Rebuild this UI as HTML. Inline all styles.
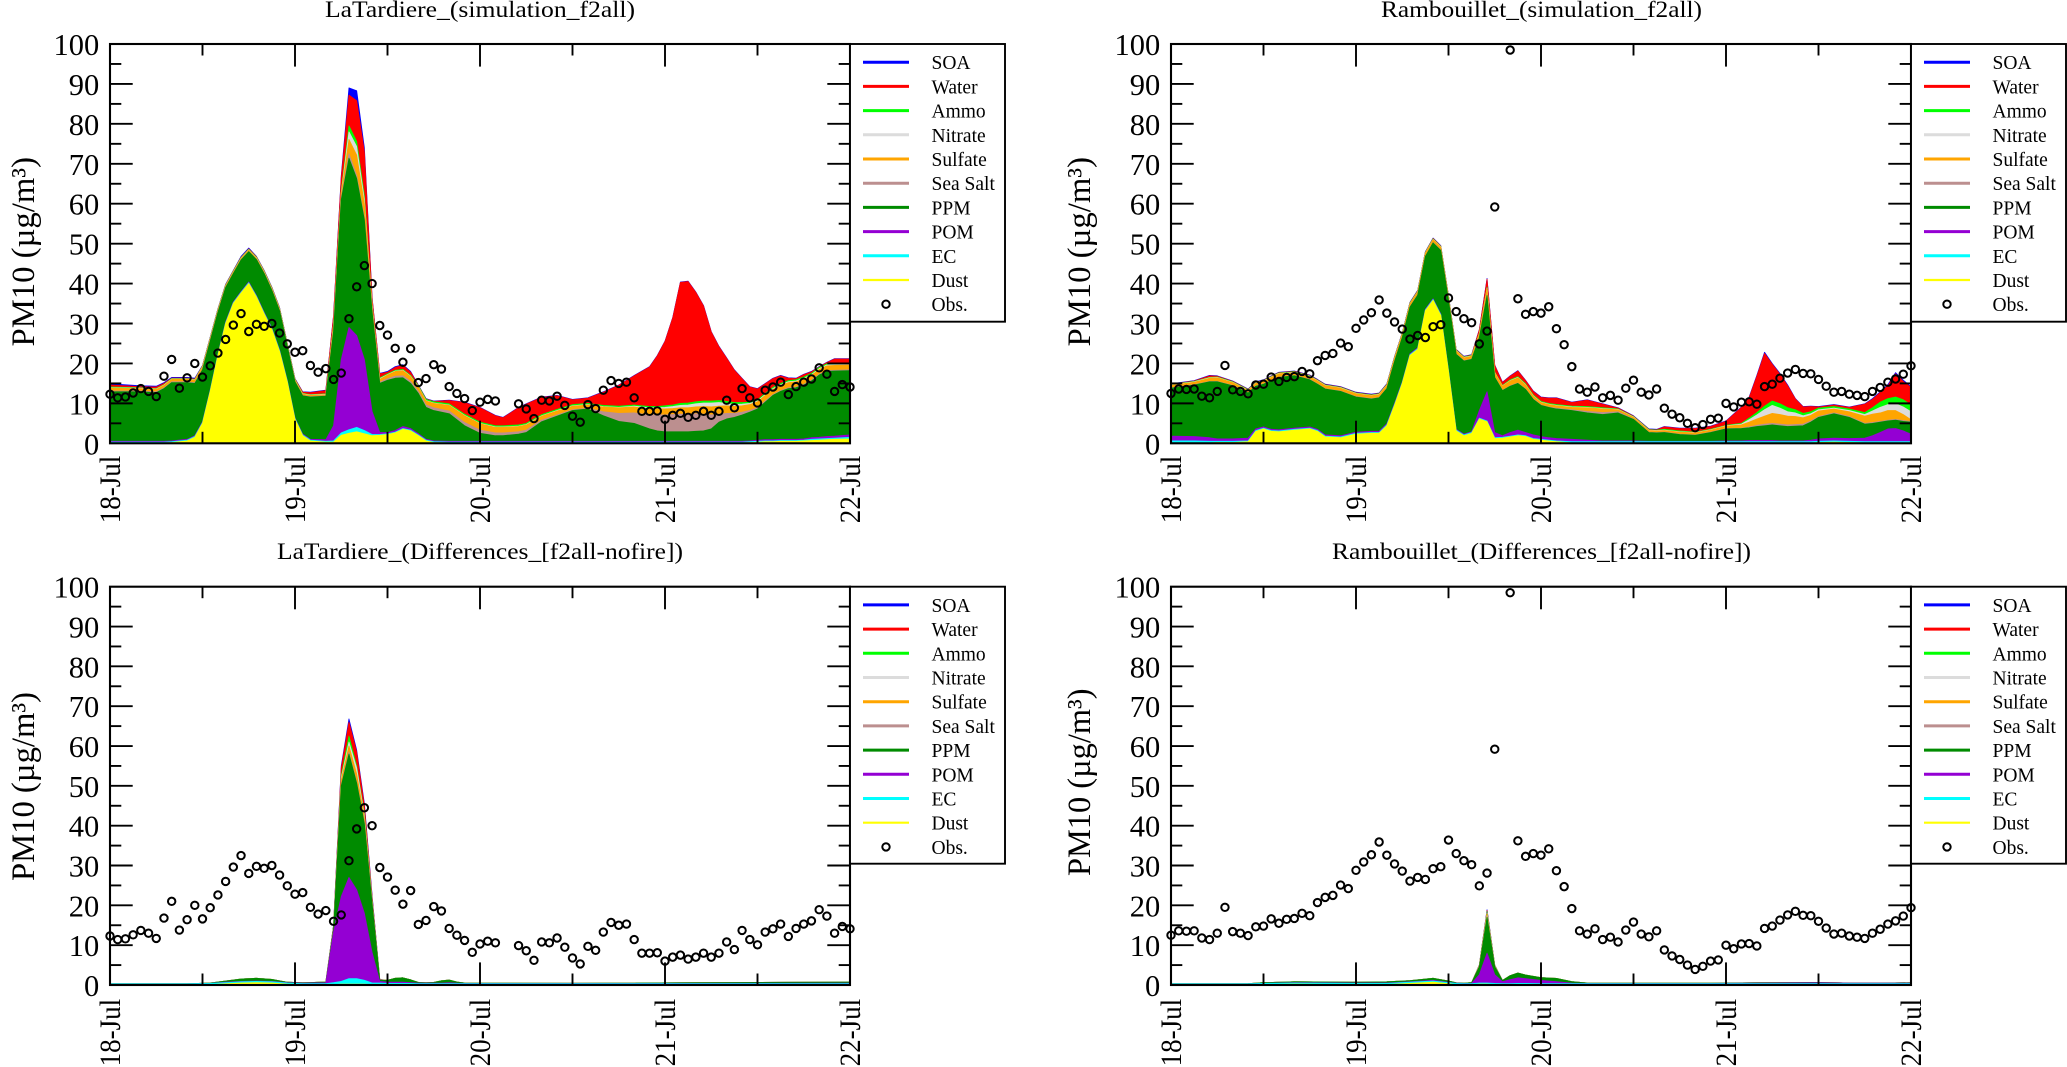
<!DOCTYPE html>
<html lang="en">
<head>
<meta charset="utf-8">
<title>PM10 composition at LaTardiere and Rambouillet</title>
<style>
html,body{margin:0;padding:0;background:#fff;width:2067px;height:1067px;overflow:hidden}
svg{display:block;font-family:"Liberation Serif","DejaVu Serif",serif;fill:#000;filter:blur(0.35px)}
</style>
</head>
<body>
<svg id="chart" xmlns="http://www.w3.org/2000/svg" width="2067" height="1067" viewBox="0 0 2067 1067"></svg>
<script>
/* ---------- shared labels ---------- */
const yTickValues = [0,10,20,30,40,50,60,70,80,90,100];
const xTickLabels = ["18-Jul","19-Jul","20-Jul","21-Jul","22-Jul"];
const legendLabels = ["SOA","Water","Ammo","Nitrate","Sulfate","Sea Salt","PPM","POM","EC","Dust"];

/* ---------- observations (hourly, null = missing) ---------- */
const obsLaTardiere = [
12.3,11.4,11.6,12.6,13.7,13,11.7,16.8,21,13.8,
16.4,20,16.6,19.4,22.6,26,29.6,32.5,28,29.8,
29.3,30,27.6,24.9,22.8,23.2,19.5,17.8,18.7,16,
17.6,31.2,39.2,44.5,40,29.5,27.1,23.8,20.3,23.7,
15.2,16.2,19.7,18.6,14.2,12.5,11.2,8.2,10.3,11,
10.6,null,null,9.9,8.6,6.2,10.8,10.6,11.8,9.5,
6.8,5.3,9.7,8.7,13.3,15.7,15,15.3,11.4,8,
8,8.1,6,7,7.5,6.5,7,8,7,8,
10.8,8.9,13.7,11.4,10.1,13.3,14.1,15.3,12.2,14.2,
15.3,16.1,18.9,17.3,13,14.7,14.1];
const obsRambouillet = [
12.5,13.6,13.5,13.6,11.8,11.4,13,19.5,13.4,13,
12.4,14.6,14.8,16.6,15.5,16.5,16.7,18,17.4,20.7,
22,22.5,25.1,24.2,28.8,30.9,32.7,35.9,32.6,30.4,
28.6,26.1,27,26.5,29.2,29.7,36.4,33,31.2,30.2,
24.9,28.1,59.2,null,98.5,36.2,32.3,33,32.6,34.2,
28.7,24.7,19.2,13.6,12.8,14.1,11.4,12,10.8,13.8,
15.8,12.8,12.1,13.6,8.8,7.3,6.4,5,3.9,4.7,
6,6.3,10,9.1,10.3,10.4,9.8,14.2,14.8,16.3,
17.6,18.5,17.5,17.4,16,14.3,12.8,13,12.3,12,
11.7,13,14,15.3,16.1,17.3,19.4];

/* ---------- LaTardiere simulation f2all (band thickness) ---------- */
const ltSimHours = [0,4,6,7,8,10,11,12,13,14, 15,16,17,18,19,20,21,22,23,24, 25,26,28,29,30,31,32,33,34,35, 36,37,38,39,40,41,42,44,46,48, 50,51,53,54,56,58,60,62,64,66, 68,70,71,72,73,74,75,76,77,78, 79,80,81,82,83,84,85,86,87,88, 89,90,91,92,93,94,96];
const ltSimDust = [.1,.1,.1,.1,.2,.6,1.5,5,13,22, 30,35,37.6,40,36.6,32.4,28.5,23,15.4,6, 1.9,.6,.3,.3,2,2.5,2.9,2.4,1.9,2, 2.2,2.6,3.5,3.1,1.9,.6,.2,.1,.1,.1, .1,.1,.1,.1,.1,.1,.1,.1,.1,.1, .1,.1,.1,.1,.1,.1,.1,.1,.1,.1, .1,.1,.1,.1,.2,.3,.4,.4,.5,.5, .5,.6,.7,.8,.9,1,1.1];
const ltSimEC = [.2,.2,.2,.2,.2,.2,.2,.2,.2,.2, .2,.2,.2,.2,.2,.2,.2,.2,.2,.2, .2,.2,.2,.3,.6,.9,1.1,.8,.3,.2, .2,.2,.2,.2,.2,.2,.2,.2,.2,.2, .2,.2,.2,.2,.2,.2,.2,.2,.2,.2, .2,.2,.2,.2,.2,.2,.2,.2,.2,.2, .2,.2,.2,.2,.2,.2,.2,.2,.2,.2, .2,.2,.3,.3,.3,.3,.4];
const ltSimPOM = [.2,.2,.2,.2,.2,.2,.2,.2,.2,.2, .2,.2,.2,.2,.2,.2,.2,.2,.2,.2, .2,.2,.4,3.8,18.4,25.6,23,17.8,5.8,.5, .3,.4,.5,.4,.3,.2,.2,.2,.2,.2, .2,.2,.2,.2,.2,.2,.2,.2,.2,.2, .2,.2,.2,.2,.2,.2,.2,.2,.2,.2, .2,.2,.2,.2,.2,.3,.3,.3,.3,.3, .3,.3,.4,.4,.5,.5,.6];
const ltSimPPM = [12.4,12.4,12.2,13.2,14.6,14.2,13.1,13,12.2,10.4, 8.6,7.1,7.9,7.6,9,9.7,9.4,9.8,8.5,9, 9.6,10.6,10.9,23.6,40,42.4,39.3,35,25,12.3, 13.1,13.1,12.2,11.3,10.1,8,7.6,6.9,3.9,2, 1.4,1.4,1.8,2.2,4.9,6.3,7.7,8.1,6.4,5, 4.5,3.1,2.6,2.4,2.4,2.4,2.4,2.5,2.6,3.1, 4.8,5.6,6,6.6,7.2,7.8,9.4,11.1,12,12.7, 12.9,13.5,14.2,15.6,16.3,16.3,16.1];
const ltSimSeaSalt = [.2,.2,.2,.2,.2,.2,.2,.2,.2,.1, .1,.1,.1,.1,.1,.1,.1,.1,.1,.1, .1,.1,.1,.5,.5,1.1,.7,.5,.5,.3, .4,.5,.5,.5,.5,.6,.7,.7,.8,.8, .7,.7,.6,.6,.4,.3,.2,.2,1,2, 2.6,3.5,4,4.2,4.3,4.4,4.4,4.4,4.2,3.5, 2,1.4,1,.7,.4,.3,.3,.2,.2,.2, .2,.2,.2,.2,.2,.2,.2];
const ltSimSulfate = [.7,.6,.6,.6,.6,.6,.6,.5,.4,.4, .3,.3,.3,.3,.3,.3,.3,.3,.3,.3, .3,.3,.3,1,1,3.6,5.2,3.5,1,.7, .9,1.2,1.3,1.2,1.1,1,1.1,1.4,1.7,1.6, 1.4,1.4,1.3,1.3,1,1,.9,.8,1.2,1.4, 1.5,1.5,1.5,1.5,1.5,1.6,1.6,1.7,1.9,2, 2,1.9,1.7,1.6,1.5,1.5,1.4,1.3,1.3,1.3, 1.3,1.3,1.2,1.2,1.2,1.2,1.2];
const ltSimNitrate = [.1,.1,.1,.1,.1,.1,.1,.1,.1,.1, .1,.1,.1,.1,.1,.1,.1,.1,.1,.1, .1,.1,.1,.2,.3,1.9,2.1,1,.2,.2, .1,.1,.1,.1,.1,.1,.1,.1,.1,.1, .1,.1,.1,.1,.1,.1,.1,.1,.1,.1, .2,.3,.3,.4,.5,.6,.7,.8,.9,1, .9,.6,.5,.4,.3,.2,.2,.2,.2,.2, .2,.2,.2,.2,.2,.2,.2];
const ltSimAmmo = [.2,.1,.1,.1,.1,.1,.1,.1,.1,.1, .1,.1,.1,.1,.1,.1,.1,.1,.1,.1, .1,.1,.1,.2,.3,1.5,1.3,1,.2,.2, .2,.2,.2,.2,.2,.3,.3,.3,.3,.3, .3,.3,.3,.3,.3,.3,.3,.3,.3,.3, .3,.3,.3,.4,.4,.5,.5,.5,.5,.5, .5,.5,.5,.4,.3,.3,.3,.3,.3,.3, .3,.3,.3,.3,.3,.3,.3];
const ltSimWater = [.5,.3,.4,.3,.1,.1,.1,.1,.1,.1, .1,.1,.1,.1,.1,.1,.1,.1,.1,.1, .3,.5,.8,1.9,3.4,7.7,10.2,11,1.5,1, .4,.7,1,.8,.1,.1,.1,.8,2.9,3.6, 2.5,2,4.3,4.8,4.3,3.4,1.2,1.3,3.3,5.2, 7.3,9.9,12.7,16.1,21.8,30.3,30.4,27.4,23.8,17.3, 13.5,10.8,8.1,6,3.8,2.7,2.4,2.2,1.9,.6, .3,.6,.4,.1,.3,1.1,1];
const ltSimSOA = [.3,.2,.2,.2,.2,.2,.2,.1,.1,.1, .1,.1,.2,.2,.1,.1,.1,.1,.1,.1, .1,.1,.1,.2,.5,1.8,2.5,1,.2,.1, .2,.2,.2,.2,.1,.1,.1,.1,.1,.1, .1,.1,.1,.1,.1,.1,.1,.1,.1,.1, .1,.1,.1,.1,.1,.1,.1,.1,.1,.1, .1,.1,.1,.1,.1,.1,.1,.1,.1,.1, .1,.1,.1,.1,.1,.1,.1];

/* ---------- Rambouillet simulation f2all ---------- */
const rbSimHours = [0,3,5,6,8,10,11,12,13,14, 16,18,19,20,22,24,26,27,28,29, 30,31,32,33,34,35,36,37,38,39, 40,41,42,43,44,45,46,47,48,49, 50,52,54,56,58,60,62,63,64,66, 68,70,72,74,75,76,77,78,79,80, 81,82,83,84,86,88,90,91,92,93, 94,95,96];
const rbSimDust = [.1,.1,.1,.2,.2,.4,3,3.6,3,2.9, 3.3,3.6,3,1.6,1.4,2.3,2.5,2.5,4.4,9.5, 15,22,23.5,33.2,35.8,32,18,3.1,1.9,2.5, 6.1,5.4,1.2,1.3,1.6,1.9,1.7,1,.8,.6, .4,.1,.1,.1,.1,.1,.1,.1,.1,.1, .1,.1,.1,.1,.1,.1,.1,.1,.1,.1, .1,.1,.1,.2,.3,.2,.1,.1,.1,.1, .1,.1,.1];
const rbSimEC = [.5,.5,.4,.3,.3,.2,.2,.2,.2,.2, .2,.2,.2,.2,.2,.2,.2,.2,.2,.2, .2,.2,.2,.2,.2,.2,.2,.2,.2,.2, .2,.2,.2,.2,.2,.2,.2,.2,.2,.2, .2,.3,.3,.3,.3,.3,.3,.3,.3,.3, .3,.3,.3,.3,.3,.3,.3,.3,.3,.3, .3,.3,.3,.3,.3,.3,.3,.3,.3,.3, .3,.3,.3];
const rbSimPOM = [1.2,1.1,.9,.6,.6,.7,.4,.3,.3,.3, .3,.3,.3,.3,.3,.3,.3,.3,.3,.3, .2,.2,.2,.2,.2,.2,.2,.2,.2,.2, 1.9,7.3,1.3,.4,.9,1.2,.8,.9,.7,.6, .6,.6,.4,.2,.2,.2,.1,.1,.1,.1, .1,.1,.2,.2,.3,.3,.3,.3,.2,.2, .2,.2,.4,.6,.7,.7,.9,1.5,2.3,3.2, 3.3,2.7,1.9];
const rbSimPPM = [12,12.9,14,14.3,13.3,11.3,10.7,10.7,12.2,13.1, 13.1,11.8,11.3,11.5,11.1,8.8,8.1,8.4,8.8,10.5, 11.1,11.7,13.2,13.2,14,15.9,17.4,18.8,18.3,18.1, 18.3,24.1,13.8,11.3,11.6,11.7,10.8,8.9,7.8,7.6, 7.4,7.2,6.8,6.6,7,5.4,2.2,2.1,2.2,1.7, 1.5,2.2,3,3.1,3.2,3.5,3.7,3.9,3.8,3.6, 3.7,3.8,4.5,5.4,6.1,5.3,3.5,3.1,2.6,2, 2.1,2.4,3];
const rbSimSeaSalt = [.1,.1,.1,.1,.1,.1,.1,.1,.1,.1, .1,.1,.1,.1,.1,.1,.1,.1,.1,.1, .1,.1,.1,.1,.1,.1,.1,.1,.1,.1, .1,.2,.1,.1,.1,.1,.1,.1,.1,.1, .2,.2,.4,.5,.3,.1,.1,.1,.1,.1, .1,.1,.1,.1,.2,.3,.4,.4,.4,.4, .4,.4,.3,.2,.2,.2,.2,.2,.2,.2, .2,.2,.2];
const rbSimSulfate = [.6,.6,.8,.9,.7,.5,.6,.6,.7,.8, .7,.7,.7,.7,.7,.7,.7,.7,.7,.7, .7,.7,.7,.7,.7,.7,.7,.7,.7,.7, .8,1.5,1,1,1.2,1.3,1,.7,.6,.6, .6,.6,.9,.9,.5,.4,.4,.4,.4,.5, .5,.5,.6,.8,1.2,1.6,2,2.5,2.4,2.2, 2,1.6,1.4,1.4,1,1.2,1.8,2.1,2.1,2.4, 2.2,1.5,.4];
const rbSimNitrate = [.1,.1,.1,.1,.1,.1,.1,.1,.1,.1, .1,.1,.1,.1,.1,.1,.1,.1,.1,.1, .1,.1,.1,.1,.1,.1,.1,.1,.1,.1, .1,.2,.1,.1,.1,.1,.1,.1,.1,.1, .1,.1,.1,.1,.1,.1,.1,.1,.1,.1, .1,.1,.1,.2,.6,1,1.6,2,1.6,1.1, .9,.5,.4,.3,.2,.3,.4,.8,1.4,1.5, 1.7,1.9,2];
const rbSimAmmo = [.1,.1,.1,.1,.1,.1,.1,.1,.1,.1, .1,.1,.1,.1,.1,.1,.1,.1,.1,.1, .1,.1,.1,.1,.1,.1,.1,.1,.1,.1, .1,.2,.1,.1,.2,.2,.2,.2,.2,.2, .2,.2,.2,.2,.1,.1,.1,.1,.2,.2, .1,.1,.1,.2,.4,.6,.9,1.1,1.1,1, .8,.6,.5,.4,.4,.4,.5,.8,1.3,1.5, 1.7,1.8,1.7];
const rbSimWater = [.1,.1,.4,.2,.1,.1,.1,.1,.1,.1, .1,.1,.1,.1,.1,.1,.1,.1,.1,.1, .1,.1,.1,.1,.1,.1,.1,.1,.1,.1, .8,2,1.7,.7,.9,1.4,.8,.9,1,1.3, 1.6,.9,1.6,.9,.2,.1,.1,.1,.6,.6, .9,.7,1,4,5.1,9.1,13.2,9.2,7.4,5.5, 2.7,1.6,1.3,.3,.4,.4,2.1,2.1,2.4,3.2, 5.8,4.6,4.4];
const rbSimSOA = [.1,.1,.1,.1,.1,.1,.1,.1,.1,.1, .1,.1,.1,.1,.1,.1,.1,.1,.1,.1, .1,.1,.1,.1,.1,.1,.1,.1,.1,.1, .1,.2,.1,.1,.1,.1,.1,.1,.1,.1, .1,.1,.1,.1,.1,.1,.1,.1,.1,.1, .1,.1,.1,.1,.2,.2,.3,.2,.2,.2, .1,.1,.1,.1,.1,.1,.1,.2,.2,.3, .3,.3,.2];

/* ---------- LaTardiere differences f2all-nofire ---------- */
const ltDiffHours = [0,10,13,15,17,19,21,23,25,28, 29,30,31,32,33,34,35,36,37,38, 39,40,41,42,43,44,45,46,60,96];
const ltDiffDust = [0,0,.1,.3,.5,.6,.5,.2,.05,.05, .1,.2,.2,.2,.2,.1,.1,.1,.1,.1, .1,.05,.05,.05,.05,.05,.05,.05,.05,.05];
const ltDiffEC = [.3,.3,.3,.3,.3,.3,.3,.3,.3,.3, .5,.7,1.4,1.4,1,.4,.4,.3,.3,.3, .3,.3,.3,.3,.3,.3,.3,.3,.3,.3];
const ltDiffPOM = [0,0,0,.1,.1,.1,.1,.1,.1,.2, 12.7,21.3,25.4,22.3,16.8,7.7,.4,.3,.3,.3, .2,.1,.1,.1,.1,.2,.1,.05,.05,.1];
const ltDiffPPM = [0,0,.1,.3,.6,.7,.5,.1,.1,.2, .7,27.8,31,26.8,22.5,12.3,.3,.5,1,1.1, .7,.2,.1,.2,.6,.7,.3,.1,.02,.3];
const ltDiffSeaSalt = [0,0,0,0,0,0,0,0,0,0, .1,.3,.5,.3,.5,.2,0,0,0,0, 0,0,0,0,0,0,0,0,0,0];
const ltDiffSulfate = [0,0,0,0,0,0,0,0,0,0, .2,1.2,1.5,2,1,.5,.1,0,0,0, 0,0,0,0,0,0,0,0,0,0];
const ltDiffNitrate = [0,0,0,0,0,0,0,0,0,0, .1,.5,1,1.5,.5,.1,0,0,0,0, 0,0,0,0,0,0,0,0,0,0];
const ltDiffAmmo = [0,0,0,0,0,0,0,0,0,0, .1,.5,1.5,.5,.5,.2,0,0,0,0, 0,0,0,0,0,0,0,0,0,0];
const ltDiffWater = [0,0,0,0,0,0,0,0,0,0, .3,2,3.5,3.5,2,.7,.05,0,0,0, 0,0,0,0,0,0,0,0,0,0];
const ltDiffSOA = [0,0,0,0,0,0,0,0,0,0, .2,.5,.8,.5,.6,.4,.05,0,0,0, 0,0,0,0,0,0,0,0,0,0];

/* ---------- Rambouillet differences f2all-nofire ---------- */
const rbDiffHours = [0,10,12,16,24,28,31,34,36,37, 38,39,40,41,42,43,44,45,46,48, 50,52,54,70,76,84,88,92,96];
const rbDiffDust = [0,0,.1,.2,.1,.1,.4,.7,.3,.1, .05,.05,.2,.2,.1,.05,.05,.1,.1,.05, .05,.05,.05,.05,.05,.05,.05,.05,.05];
const rbDiffEC = [.3,.3,.3,.3,.3,.3,.3,.3,.3,.3, .3,.3,.3,.3,.3,.3,.3,.3,.3,.3, .3,.3,.3,.3,.3,.3,.3,.3,.3];
const rbDiffPOM = [0,0,0,.1,.1,.1,.1,.2,.1,.05, .05,.05,2.1,7.5,2.2,.5,1,1.4,1.2,.8, .5,.1,.05,.05,.1,.2,.1,.1,.1];
const rbDiffPPM = [0,.05,.2,.2,.2,.3,.3,.5,.3,.1, .05,.2,2,9,2,.3,1,1.2,.9,.7, .8,.4,.1,.05,.1,.1,.05,.05,.1];
const rbDiffSeaSalt = [0,0,0,0,0,0,0,0,0,0, 0,0,.1,.3,.1,0,0,0,0,0, 0,0,0,0,0,0,0,0,0];
const rbDiffSulfate = [0,0,0,0,0,0,0,0,0,0, 0,0,.1,.5,.1,0,0,0,0,0, 0,0,0,0,0,0,0,0,0];
const rbDiffNitrate = [0,0,0,0,0,0,0,0,0,0, 0,0,.05,.3,.05,0,0,0,0,0, 0,0,0,0,0,0,0,0,0];
const rbDiffAmmo = [0,0,0,0,0,0,0,0,0,0, 0,0,.05,.3,.05,0,0,0,0,0, 0,0,0,0,0,0,0,0,0];
const rbDiffWater = [0,0,0,0,0,0,0,0,0,0, 0,0,.1,.3,.1,0,0,0,0,0, 0,0,0,0,0,0,0,0,0];
const rbDiffSOA = [0,0,0,0,0,0,0,0,0,0, 0,0,.05,.2,.05,0,0,0,0,0, 0,0,0,0,0,0,0,0,0];

/* ---------- styling and layout ---------- */
const speciesColors = ["#0000ff","#ff0000","#00ff00","#dcdcdc","#ffa500","#bc8f8f","#008b00","#9400d3","#00ffff","#ffff00"];

const panels = [
 {key:"latardiere-simulation", title:"LaTardiere_(simulation_f2all)", x0:110, x1:850, yt:44, yb:443.3, legendR:1005, legendB:321.7, titleX:325, titleLen:310, titleY:17, labelX:34, labelStart:346.5, labelLen:189.5, xLabelStart:523.3, hours:ltSimHours, obs:obsLaTardiere,
  bands:[ltSimDust,ltSimEC,ltSimPOM,ltSimPPM,ltSimSeaSalt,ltSimSulfate,ltSimNitrate,ltSimAmmo,ltSimWater,ltSimSOA]},
 {key:"rambouillet-simulation", title:"Rambouillet_(simulation_f2all)", x0:1171, x1:1911, yt:44, yb:443.3, legendR:2066, legendB:321.7, titleX:1381, titleLen:321, titleY:17, labelX:1090, labelStart:346.5, labelLen:189.5, xLabelStart:523.3, hours:rbSimHours, obs:obsRambouillet,
  bands:[rbSimDust,rbSimEC,rbSimPOM,rbSimPPM,rbSimSeaSalt,rbSimSulfate,rbSimNitrate,rbSimAmmo,rbSimWater,rbSimSOA]},
 {key:"latardiere-differences", title:"LaTardiere_(Differences_[f2all-nofire])", x0:110, x1:850, yt:586.7, yb:985, legendR:1005, legendB:863.7, titleX:277, titleLen:406, titleY:559, labelX:34, labelStart:881, labelLen:189, xLabelStart:1066.4, hours:ltDiffHours, obs:obsLaTardiere,
  bands:[ltDiffDust,ltDiffEC,ltDiffPOM,ltDiffPPM,ltDiffSeaSalt,ltDiffSulfate,ltDiffNitrate,ltDiffAmmo,ltDiffWater,ltDiffSOA]},
 {key:"rambouillet-differences", title:"Rambouillet_(Differences_[f2all-nofire])", x0:1171, x1:1911, yt:586.7, yb:985, legendR:2066, legendB:863.7, titleX:1332, titleLen:419, titleY:559, labelX:1090, labelStart:876, labelLen:187.5, xLabelStart:1066.4, hours:rbDiffHours, obs:obsRambouillet,
  bands:[rbDiffDust,rbDiffEC,rbDiffPOM,rbDiffPPM,rbDiffSeaSalt,rbDiffSulfate,rbDiffNitrate,rbDiffAmmo,rbDiffWater,rbDiffSOA]}
];

/* ---------- drawing ---------- */
const NS = "http://www.w3.org/2000/svg";
const svg = document.getElementById("chart");
function mk(tag, attrs, parent, text){
  const e = document.createElementNS(NS, tag);
  for (const k in attrs) e.setAttribute(k, attrs[k]);
  if (text !== undefined) e.textContent = text;
  parent.appendChild(e);
  return e;
}

panels.forEach(function(p){
  const xScale = function(h){ return p.x0 + h * (p.x1 - p.x0) / 96; };
  const yScale = function(v){ return p.yb - v * (p.yb - p.yt) / 100; };

  const g = mk("g", {}, svg);
  
  

  const title = mk("text", {x:p.titleX, y:p.titleY, "font-size":23, textLength:p.titleLen, lengthAdjust:"spacingAndGlyphs"}, g, p.title);
  
  

  /* stacked areas: painted from the top band down so lower bands overlay */
  const bandsGroup = mk("g", {}, g);
  
  
  for (let b = p.bands.length - 1; b >= 0; b--){
    const pts = [];
    p.hours.forEach(function(h, i){
      let sum = 0;
      for (let k = 0; k <= b; k++) sum += p.bands[k][i] || 0;
      pts.push(xScale(h).toFixed(2) + "," + yScale(sum).toFixed(2));
    });
    pts.push(xScale(p.hours[p.hours.length - 1]).toFixed(2) + "," + yScale(0).toFixed(2));
    pts.push(xScale(p.hours[0]).toFixed(2) + "," + yScale(0).toFixed(2));
    const color = speciesColors[legendLabels.length - 1 - b];
    const area = mk("polygon", {points:pts.join(" "), fill:color, stroke:color, "stroke-width":0.8, "stroke-linejoin":"round"}, bandsGroup);
    
    
  }

  /* y ticks */
  for (let v = 5; v < 100; v += 5){
    const len = v % 10 === 0 ? 22.7 : 11.3;
    const tl = mk("line", {x1:p.x0, x2:p.x0 + len, y1:yScale(v), y2:yScale(v), stroke:"#000", "stroke-width":1.9}, g);
    
    
    const tr = mk("line", {x1:p.x1, x2:p.x1 - len, y1:yScale(v), y2:yScale(v), stroke:"#000", "stroke-width":1.9}, g);
    
    
  }
  yTickValues.forEach(function(v){
    const t = mk("text", {x:p.x0 - 10.7, y:yScale(v) + 11, "font-size":30.5, "text-anchor":"end"}, g, String(v));
    
    
  });

  /* x ticks */
  for (let h = 12; h < 96; h += 12){
    const len = h % 24 === 0 ? 22.6 : 11.5;
    const tt = mk("line", {x1:xScale(h), x2:xScale(h), y1:p.yt, y2:p.yt + len, stroke:"#000", "stroke-width":1.9}, g);
    
    
    const tb = mk("line", {x1:xScale(h), x2:xScale(h), y1:p.yb, y2:p.yb - len, stroke:"#000", "stroke-width":1.9}, g);
    
    
  }
  xTickLabels.forEach(function(label, i){
    const bx = xScale(i * 24) + 10;
    const t = mk("text", {transform:"translate(" + bx + "," + p.xLabelStart + ") rotate(-90)", x:0, y:0, "font-size":30, textLength:67.6, lengthAdjust:"spacingAndGlyphs"}, g, label);
    
    
  });

  /* plot frame */
  const frame = mk("rect", {x:p.x0, y:p.yt, width:p.x1 - p.x0, height:p.yb - p.yt, fill:"none", stroke:"#000", "stroke-width":2.1}, g);
  
  

  /* y axis title */
  const yTitle = mk("text", {transform:"translate(" + p.labelX + "," + p.labelStart + ") rotate(-90)", x:0, y:0, "font-size":33, textLength:p.labelLen, lengthAdjust:"spacingAndGlyphs"}, g, "PM10 (\u00B5g/m\u00B3)");
  
  

  /* legend */
  const lg = mk("g", {}, g);
  
  
  const box = mk("rect", {x:p.x1, y:p.yt, width:p.legendR - p.x1, height:p.legendB - p.yt, fill:"#fff", stroke:"#000", "stroke-width":1.9}, lg);
  
  
  const rowH = 24.2;
  const firstRow = p.yt + 18.2;
  legendLabels.forEach(function(label, i){
    const ry = firstRow + i * rowH;
    const swatch = mk("line", {x1:p.x1 + 13, x2:p.x1 + 59, y1:ry, y2:ry, stroke:speciesColors[i], "stroke-width":i === 9 ? 2.2 : 3}, lg);
    
    
    const lt = mk("text", {x:p.x1 + 81.5, y:ry + 7, "font-size":19.5}, lg, label);
    
    
  });
  const obsY = firstRow + 10 * rowH;
  const obsMark = mk("circle", {cx:p.x1 + 36, cy:obsY, r:3.7, fill:"none", stroke:"#000", "stroke-width":2}, lg);
  
  
  const obsText = mk("text", {x:p.x1 + 81.5, y:obsY + 7, "font-size":19.5}, lg, "Obs.");
  
  

  /* observations */
  const og = mk("g", {}, g);
  
  
  p.obs.forEach(function(v, h){
    if (v === null) return;
    const c = mk("circle", {cx:xScale(h).toFixed(2), cy:yScale(v).toFixed(2), r:3.7, fill:"none", stroke:"#000", "stroke-width":2}, og);
    
    
  });
});
</script>
</body>
</html>
